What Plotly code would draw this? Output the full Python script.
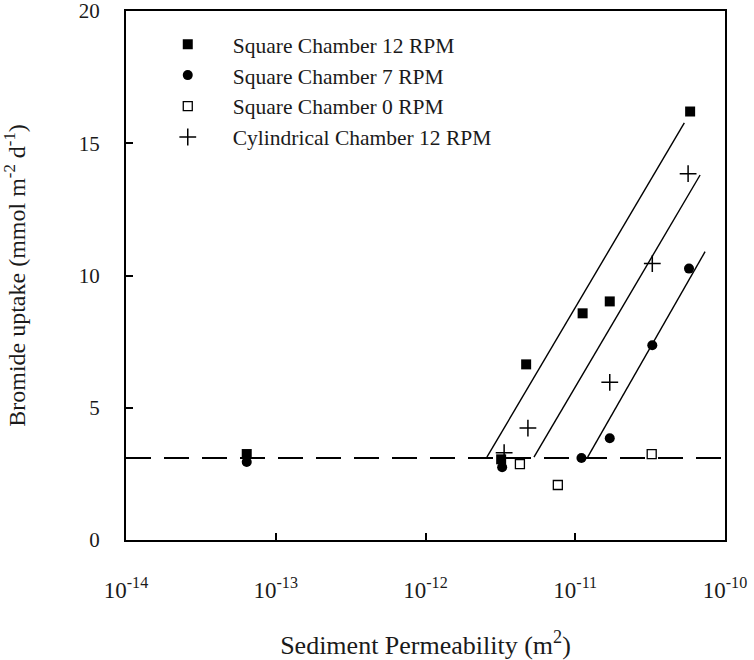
import plotly.graph_objects as go

# Data (x = sediment permeability in m^2, y = bromide uptake mmol m-2 d-1)
sq12_x = [6.4e-14, 3.2e-12, 4.7e-12, 1.12e-11, 1.7e-11, 5.85e-11]
sq12_y = [3.25, 3.05, 6.64, 8.57, 9.02, 16.2]

sq7_x = [6.4e-14, 3.25e-12, 1.1e-11, 1.7e-11, 3.27e-11, 5.75e-11]
sq7_y = [2.95, 2.75, 3.1, 3.85, 7.36, 10.26]

sq0_x = [4.27e-12, 7.65e-12, 3.24e-11]
sq0_y = [2.87, 2.08, 3.25]

cyl12_x = [3.35e-12, 4.83e-12, 1.7e-11, 3.27e-11, 5.67e-11]
cyl12_y = [3.3, 4.23, 5.96, 10.45, 13.85]

# Fitted regression lines (end points)
fit_sq12_x = [2.57e-12, 5.35e-11]
fit_sq12_y = [3.13, 15.77]
fit_cyl12_x = [5.3e-12, 6.82e-11]
fit_cyl12_y = [3.13, 13.8]
fit_sq7_x = [1.21e-11, 7.36e-11]
fit_sq7_y = [3.13, 10.9]

baseline_x = [1e-14, 1e-10]
baseline_y = [3.1, 3.1]

names = ["Square Chamber 12 RPM", "Square Chamber 7 RPM",
         "Square Chamber 0 RPM", "Cylindrical Chamber 12 RPM"]

x_tickvals = [1e-14, 1e-13, 1e-12, 1e-11, 1e-10]
x_ticktext = ["10<sup>-14</sup>", "10<sup>-13</sup>", "10<sup>-12</sup>",
              "10<sup>-11</sup>", "10<sup>-10</sup>"]
y_tickvals = [0, 5, 10, 15, 20]

FONT = "Liberation Serif"
fig = go.Figure()

line_style = dict(color="black", width=1.4)
fig.add_trace(go.Scatter(x=baseline_x, y=baseline_y, mode="lines",
                         line=dict(color="black", width=1.8, dash="25px,13px"),
                         showlegend=False, hoverinfo="skip"))
for fx, fy in [(fit_sq12_x, fit_sq12_y), (fit_cyl12_x, fit_cyl12_y), (fit_sq7_x, fit_sq7_y)]:
    fig.add_trace(go.Scatter(x=fx, y=fy, mode="lines", line=line_style,
                             showlegend=False, hoverinfo="skip"))

fig.add_trace(go.Scatter(x=sq12_x, y=sq12_y, mode="markers", name=names[0],
                         marker=dict(symbol="square", size=10, color="black")))
fig.add_trace(go.Scatter(x=sq7_x, y=sq7_y, mode="markers", name=names[1],
                         marker=dict(symbol="circle", size=10, color="black")))
fig.add_trace(go.Scatter(x=sq0_x, y=sq0_y, mode="markers", name=names[2],
                         marker=dict(symbol="square-open", size=9, color="black",
                                     line=dict(width=1.3))))
fig.add_trace(go.Scatter(x=cyl12_x, y=cyl12_y, mode="markers", name=names[3],
                         marker=dict(symbol="cross-thin-open", size=12, color="black",
                                     line=dict(width=1.5, color="black"))))

fig.update_layout(
    width=754, height=660,
    margin=dict(l=126, r=29, t=11, b=120),
    paper_bgcolor="white", plot_bgcolor="white",
    font=dict(family=FONT, size=21, color="#1a1a1a"),
    showlegend=True,
    legend=dict(x=0.028, y=0.976, xanchor="left", yanchor="top",
                bgcolor="rgba(0,0,0,0)", font=dict(family=FONT, size=21.5),
                itemwidth=80, tracegroupgap=0),
    xaxis=dict(type="log", range=[-14, -10], tickvals=x_tickvals, ticktext=x_ticktext,
               showgrid=False, zeroline=False, showline=True, linecolor="black",
               linewidth=2, mirror=True, ticks="inside", ticklen=7, tickwidth=1.5,
               tickcolor="black", ticklabelstandoff=28, automargin=False,
               ticklabeloverflow="allow",
               tickfont=dict(family=FONT, size=23),
               title=dict(text="Sediment Permeability (m<sup>2</sup>)", standoff=40,
                          font=dict(family=FONT, size=26))),
    yaxis=dict(range=[0, 20], tickvals=y_tickvals,
               showgrid=False, zeroline=False, showline=True, linecolor="black",
               linewidth=2, mirror=True, ticks="inside", ticklen=7, tickwidth=1.5,
               tickcolor="black", ticklabelstandoff=20, automargin=False,
               ticklabeloverflow="allow",
               tickfont=dict(family=FONT, size=21),
               title=dict(text="Bromide uptake (mmol m<sup>-2</sup> d<sup>-1</sup>)",
                          standoff=47, font=dict(family=FONT, size=24))),
)

fig.write_html("out.html", config={"displayModeBar": False},
               post_script="document.body.style.margin='0px';")
